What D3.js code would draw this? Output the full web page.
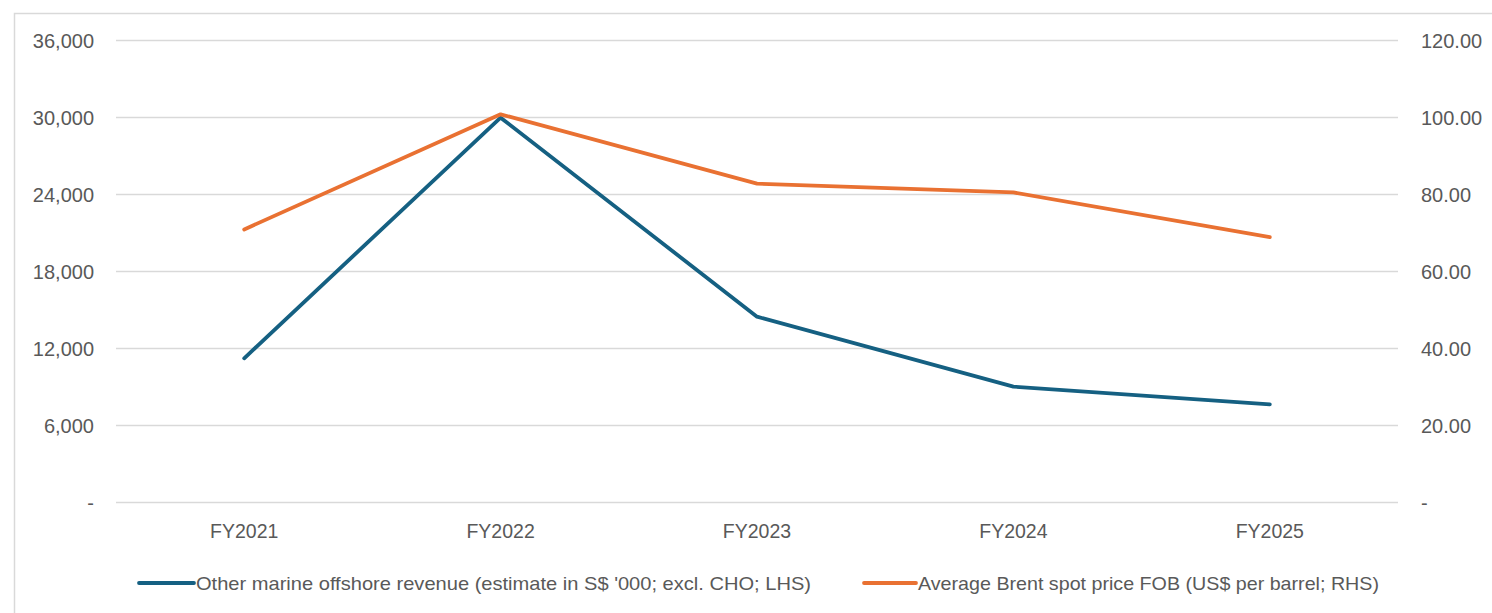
<!DOCTYPE html>
<html>
<head>
<meta charset="utf-8">
<script src="https://cdn.jsdelivr.net/npm/d3@7"></script>
<style>
  html, body { margin: 0; padding: 0; background: #fff; }
  svg { display: block; }
  text { font-family: "Liberation Sans", Arial, sans-serif; fill: #595959; }
</style>
</head>
<body>
<svg id="chart" width="1492" height="613"></svg>
<script>
const categories = ["FY2021", "FY2022", "FY2023", "FY2024", "FY2025"];
const revenueValues = [11200, 29950, 14440, 8990, 7610];
const brentValues = [70.8, 100.7, 82.7, 80.4, 68.8];
const leftTicks = [0, 6000, 12000, 18000, 24000, 30000, 36000];
const rightTicks = [0, 20, 40, 60, 80, 100, 120];
const seriesNames = [
  "Other marine offshore revenue (estimate in S$ '000; excl. CHO; LHS)",
  "Average Brent spot price FOB (US$ per barrel; RHS)"
];
const colors = ["#156082", "#E97132"];

const svg = d3.select("#chart");
const W = 1492, H = 613;
const plot = { left: 116, right: 1398, top: 40, bottom: 502 };

// outer chart border (left and top visible)
svg.append("path")
  .attr("d", `M14.5,${H} L14.5,13.5 L${W},13.5`)
  .attr("fill", "none").attr("stroke", "#d9d9d9").attr("stroke-width", 1.5);

const x = d3.scaleBand().domain(categories).range([plot.left, plot.right]);
const yL = d3.scaleLinear().domain([0, 36000]).range([plot.bottom, plot.top]);
const yR = d3.scaleLinear().domain([0, 120]).range([plot.bottom, plot.top]);

// gridlines
svg.append("g").selectAll("line").data(leftTicks).join("line")
  .attr("x1", plot.left).attr("x2", plot.right)
  .attr("y1", d => Math.round(yL(d)) + 0.5).attr("y2", d => Math.round(yL(d)) + 0.5)
  .attr("stroke", "#d9d9d9").attr("stroke-width", 1.3);

const fmtL = d => d === 0 ? "-" : d3.format(",")(d);
const fmtR = d => d === 0 ? "-" : d3.format(".2f")(d);

// left axis
const gL = svg.append("g").attr("transform", `translate(94,0)`)
  .call(d3.axisLeft(yL).tickValues(leftTicks).tickFormat(fmtL).tickSize(0).tickPadding(0));
gL.select(".domain").remove();
gL.selectAll("text").attr("font-size", 20).attr("fill", "#595959")
  .attr("font-family", "Liberation Sans, Arial, sans-serif").attr("dy", "0.35em");

// right axis
const gR = svg.append("g").attr("transform", `translate(1421,0)`)
  .call(d3.axisRight(yR).tickValues(rightTicks).tickFormat(fmtR).tickSize(0).tickPadding(0));
gR.select(".domain").remove();
gR.selectAll("text").attr("font-size", 20).attr("fill", "#595959")
  .attr("font-family", "Liberation Sans, Arial, sans-serif").attr("dy", "0.35em");

// category axis
const gX = svg.append("g").attr("transform", `translate(0,${plot.bottom + 29})`)
  .call(d3.axisBottom(x).tickSize(0).tickPadding(0));
gX.select(".domain").remove();
gX.selectAll("text").attr("font-size", 19.5).attr("fill", "#595959")
  .attr("font-family", "Liberation Sans, Arial, sans-serif").attr("dy", "0.35em");

const cx = d => x(d) + x.bandwidth() / 2;

// lines
const lineL = d3.line().x((d, i) => cx(categories[i])).y(d => yL(d));
const lineR = d3.line().x((d, i) => cx(categories[i])).y(d => yR(d));

svg.append("path").datum(revenueValues)
  .attr("d", lineL).attr("fill", "none").attr("stroke", colors[0])
  .attr("stroke-width", 3.8).attr("stroke-linejoin", "round").attr("stroke-linecap", "round");
svg.append("path").datum(brentValues)
  .attr("d", lineR).attr("fill", "none").attr("stroke", colors[1])
  .attr("stroke-width", 3.8).attr("stroke-linejoin", "round").attr("stroke-linecap", "round");

// legend
const legendItems = [
  { name: seriesNames[0], color: colors[0], x0: 139, x1: 194, tx: 196, tw: 615 },
  { name: seriesNames[1], color: colors[1], x0: 864, x1: 916, tx: 918, tw: 461 }
];
const lg = svg.append("g");
legendItems.forEach(it => {
  lg.append("line").attr("x1", it.x0).attr("x2", it.x1).attr("y1", 583).attr("y2", 583)
    .attr("stroke", it.color).attr("stroke-width", 3.8).attr("stroke-linecap", "round");
  lg.append("text").attr("x", it.tx).attr("y", 583).attr("dy", "0.35em")
    .attr("font-size", 19).attr("textLength", it.tw).attr("lengthAdjust", "spacingAndGlyphs")
    .text(it.name);
});
</script>
</body>
</html>
